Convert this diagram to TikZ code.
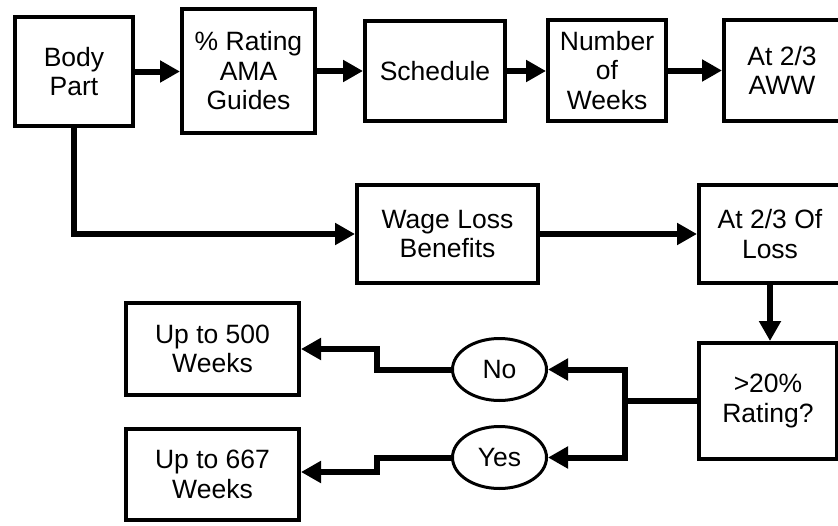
\documentclass[tikz,border=0pt]{standalone}
\usepackage{fontspec}
\setmainfont{Liberation Sans}
\usetikzlibrary{arrows.meta,shapes.geometric}
\begin{document}
\begin{tikzpicture}[x=1pt,y=-1pt,
  label font/.style={font=\fontsize{26.5}{29.5}\selectfont},
  box/.style={draw,line width=4pt,align=center,inner sep=0pt,label font},
  oval/.style={ellipse,draw,line width=3pt,inner sep=0pt,label font},
  flow/.style={line width=6pt,-{Triangle[length=20pt,width=21pt]}},
  link/.style={line width=6pt},
]
\useasboundingbox (0,0) rectangle (838,525);
\clip (0,0) rectangle (838,525);

% top row
\node[box,minimum width=118pt,minimum height=109pt] (body)   at (74,71.5)   {Body\\Part};
\node[box,minimum width=133pt,minimum height=124pt] (rating) at (248.5,71)  {\% Rating\\AMA\\Guides};
\node[box,minimum width=140pt,minimum height=100pt] (sched)  at (435,71)    {Schedule};
\node[box,minimum width=118pt,minimum height=101pt] (weeks)  at (607,70.5)  {Number\\of\\Weeks};
\node[box,minimum width=116pt,minimum height=101pt] (aww)    at (782,70.5)  {At 2/3\\AWW};

% wage loss branch
\node[box,minimum width=181pt,minimum height=98pt]  (wage)   at (447.5,234) {Wage Loss\\Benefits};
\node[box,minimum width=142pt,minimum height=98pt]  (loss)   at (770,234)   {At 2/3 Of\\Loss};
\node[box,minimum width=138pt,minimum height=116pt] (rate20) at (768,401)   {>20\%\\Rating?};

% decision outcomes
\node[oval,minimum width=94pt,minimum height=62pt] (no)  at (499.5,369.5) {No};
\node[oval,minimum width=94pt,minimum height=62pt] (yes) at (499.5,457.5) {Yes};
\node[box,minimum width=173pt,minimum height=92pt] (up500) at (212.5,349)   {Up to 500\\Weeks};
\node[box,minimum width=173pt,minimum height=91pt] (up667) at (212.5,474.5) {Up to 667\\Weeks};

\coordinate (fork) at (625,401);
\coordinate (jog)  at (377,0);

% connectors
\draw[flow] (body.east)   -- (body.east -| rating.west);
\draw[flow] (rating.east) -- (rating.east -| sched.west);
\draw[flow] (sched.east)  -- (sched.east -| weeks.west);
\draw[flow] (weeks.east)  -- (weeks.east -| aww.west);
\draw[flow] (body.south)  |- (wage.west);
\draw[flow] (wage.east)   -- (wage.east -| loss.west);
\draw[flow] (loss.south)  -- (loss.south |- rate20.north);
\draw[link] (rate20.west) -- (fork);
\draw[flow] (fork) |- (no.east);
\draw[flow] (fork) |- (yes.east);
\draw[flow] (no.west)  -- (no.west -| jog)  |- (up500.east);
\draw[flow] (yes.west) -- (yes.west -| jog) |- ([yshift=2.5pt]up667.east);
\end{tikzpicture}
\end{document}
